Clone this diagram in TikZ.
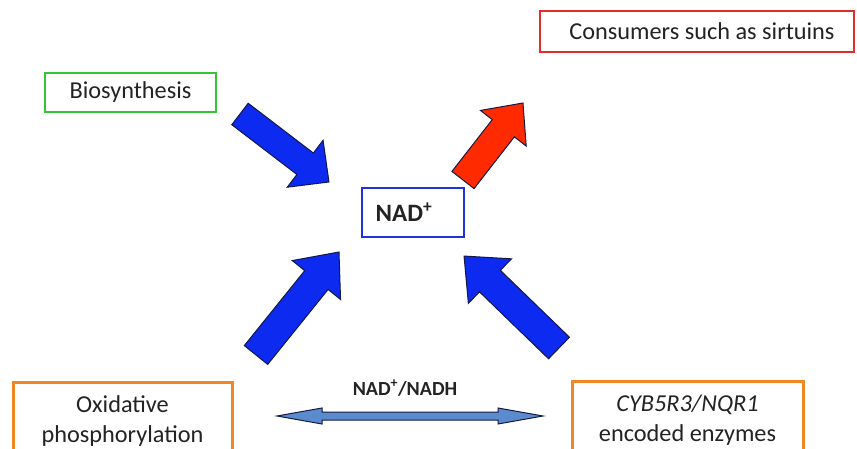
\documentclass[tikz,border=0pt]{standalone}
\usepackage{fontspec}
\setmainfont{Carlito}
\usetikzlibrary{calc}
\definecolor{txt}{RGB}{35,35,35}
\definecolor{grn}{RGB}{55,195,55}
\definecolor{rbox}{RGB}{225,45,40}
\definecolor{bbox}{RGB}{30,50,225}
\definecolor{obox}{RGB}{240,135,35}
\definecolor{barrow}{RGB}{12,42,240}
\definecolor{rarrow}{RGB}{255,42,0}
\definecolor{larrow}{RGB}{90,140,205}
\definecolor{edge}{RGB}{20,25,70}
\tikzset{
  box/.style={draw, line width=2.5pt, fill=white, text=txt, inner sep=0pt, font=\fontsize{24.3}{30}\selectfont, align=center},
  blk/.style={draw=edge, line width=1pt, line join=miter},
}
% #1 tail, #2 tip, #3 shaft width, #4 head width, #5 head length, #6 fill colour
\newcommand\blkarrow[6]{%
  \path let \p1=($(#2)-(#1)$), \n1={atan2(\y1,\x1)}, \n2={veclen(\x1,\y1)} in
    [blk, fill=#6, shift={(#1)}, rotate=\n1]
    (0pt,{-#3pt/2}) -- ({\n2-#5pt},{-#3pt/2}) -- ({\n2-#5pt},{-#4pt/2})
    -- ({\n2},0pt) -- ({\n2-#5pt},{#4pt/2}) -- ({\n2-#5pt},{#3pt/2})
    -- (0pt,{#3pt/2}) -- cycle;}
\begin{document}
\begin{tikzpicture}[x=1pt,y=-1pt]
\clip (0,0) rectangle (857,449);
\fill[white] (0,0) rectangle (857,449);
% boxes
\node[box, draw=grn, minimum width=171pt, minimum height=39pt] (bio) at (130.5,92.5) {Biosynthesis};
\node[box, draw=rbox, minimum width=314pt, minimum height=41pt] (cons) at (697,31.5) {\hspace*{10pt}Consumers such as sirtuins};
\node[box, draw=bbox, minimum width=102pt, minimum height=49pt, font=\fontsize{25}{30}\selectfont\bfseries] (nad) at (413,212.5) {NAD\textsuperscript{+}\hspace*{18pt}};
\node[box, draw=obox, line width=3pt, minimum width=219pt, minimum height=78pt] (ox) at (122.5,421) {Oxidative\\phosphorylation};
\node[box, draw=obox, line width=3pt, minimum width=231pt, minimum height=78pt] (cyb) at (687.5,420) {\textit{CYB5R3/NQR1}\\encoded enzymes};
% block arrows
\coordinate (t1) at (240,114); \coordinate (h1) at (329,182);
\coordinate (t2) at (463,180); \coordinate (h2) at (523,103);
\coordinate (t3) at (256,355); \coordinate (h3) at (339,252);
\coordinate (t4) at (559,348); \coordinate (h4) at (464,256);
\blkarrow{t1}{h1}{27}{59}{30}{barrow}
\blkarrow{t2}{h2}{28}{58}{32}{rarrow}
\blkarrow{t3}{h3}{30}{62}{36}{barrow}
\blkarrow{t4}{h4}{30}{62}{36}{barrow}
% double arrow
\coordinate (dl) at (277,416); \coordinate (dr) at (543,416);
\path[blk, fill=larrow] (dl) -- ++(45,-8) -- ++(0,4) -- ($(dr)+(-45,-4)$) -- ++(0,-4) -- (dr)
  -- ++(-45,8) -- ++(0,-4) -- ($(dl)+(45,4)$) -- ++(0,4) -- cycle;
\node[text=txt, font=\fontsize{20}{24}\selectfont\bfseries] (ratio) at (405,388) {NAD\textsuperscript{+}/NADH};
\end{tikzpicture}
\end{document}
